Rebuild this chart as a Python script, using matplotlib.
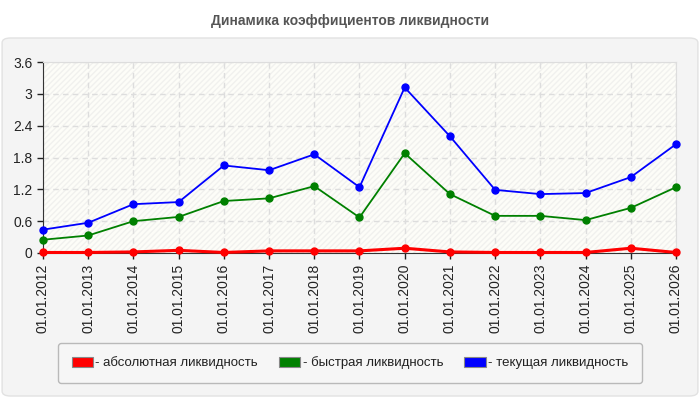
import numpy as np
import matplotlib.pyplot as plt
from matplotlib.patches import FancyBboxPatch, Patch

# Data
dates = ['01.01.2012', '01.01.2013', '01.01.2014', '01.01.2015', '01.01.2016',
         '01.01.2017', '01.01.2018', '01.01.2019', '01.01.2020', '01.01.2021',
         '01.01.2022', '01.01.2023', '01.01.2024', '01.01.2025', '01.01.2026']
absolute = [0.01, 0.01, 0.02, 0.05, 0.01, 0.04, 0.04, 0.04, 0.09, 0.02,
            0.01, 0.01, 0.01, 0.09, 0.01]
quick = [0.25, 0.33, 0.60, 0.68, 0.98, 1.03, 1.26, 0.67, 1.88, 1.11,
         0.70, 0.70, 0.62, 0.85, 1.24]
current = [0.44, 0.57, 0.92, 0.96, 1.65, 1.56, 1.86, 1.24, 3.12, 2.20,
           1.19, 1.11, 1.13, 1.43, 2.05]
series_names = ['- абсолютная ликвидность', '- быстрая ликвидность', '- текущая ликвидность']
series_colors = ['#ff0000', '#008000', '#0000ff']
yticks = [0, 0.6, 1.2, 1.8, 2.4, 3, 3.6]

plt.rcParams['font.family'] = ['Liberation Sans', 'DejaVu Sans']
plt.rcParams['hatch.color'] = '#f1f1ee'

fig = plt.figure(figsize=(7, 4), dpi=100)
fig.patch.set_facecolor('white')

# grey panel behind the chart
panel = FancyBboxPatch((0.003, 0.01), 0.994, 0.895, boxstyle='round,pad=0,rounding_size=0.012',
                       transform=fig.transFigure, facecolor='#f4f4f4', edgecolor='#e2e2e2',
                       linewidth=1, zorder=-5)
fig.patches.append(panel)

fig.text(0.5, 0.948, 'Динамика коэффициентов ликвидности', ha='center', va='center',
         fontsize=10, fontweight='bold', color='#555555')

ax = fig.add_axes([0.0614, 0.3675, 0.9043, 0.4775])
ax.set_zorder(2)
ax.set_facecolor('#fdfdf8')
ax.add_patch(plt.Rectangle((0, 0), 1, 1, transform=ax.transAxes, facecolor='none',
                           edgecolor='#f1f1ee', hatch='//////', linewidth=0, zorder=0))

x = np.arange(len(dates))
for vals, col in zip([absolute, quick, current], series_colors):
    lw = 2.2 if col == '#ff0000' else 1.3
    ax.plot(x, vals, color=col, linewidth=lw, marker='o', markersize=5, zorder=3, clip_on=False)

ax.set_xlim(0, len(dates) - 1)
ax.set_ylim(0, 3.6)
ax.set_yticks(yticks)
ax.set_yticklabels(['0', '0.6', '1.2', '1.8', '2.4', '3', '3.6'])
ax.set_xticks(x)
ax.set_xticklabels(dates, rotation=90)
ax.tick_params(axis='both', labelsize=10, colors='#222222', length=4, width=1)
ax.grid(True, color='#dddddd', linestyle=(0, (4, 3)), linewidth=1)
ax.set_axisbelow(True)
for s in ['top', 'right']:
    ax.spines[s].set_color('#dddddd')
for s in ['left', 'bottom']:
    ax.spines[s].set_color('#333333')

handles = [Patch(facecolor=c, edgecolor='#888888', linewidth=0.8) for c in series_colors]
leg = fig.legend(handles, series_names, loc='center', bbox_to_anchor=(0.5, 0.0925),
                 ncol=3, fontsize=9.5, frameon=True, fancybox=True, handlelength=1.6,
                 handleheight=0.8, handletextpad=0.2, columnspacing=1.6,
                 borderpad=1.0, labelcolor='#222222')
leg.get_frame().set_facecolor('#f7f7f7')
leg.get_frame().set_edgecolor('#aaaaaa')
leg.get_frame().set_linewidth(1)

fig.savefig('out.png', dpi=100)
